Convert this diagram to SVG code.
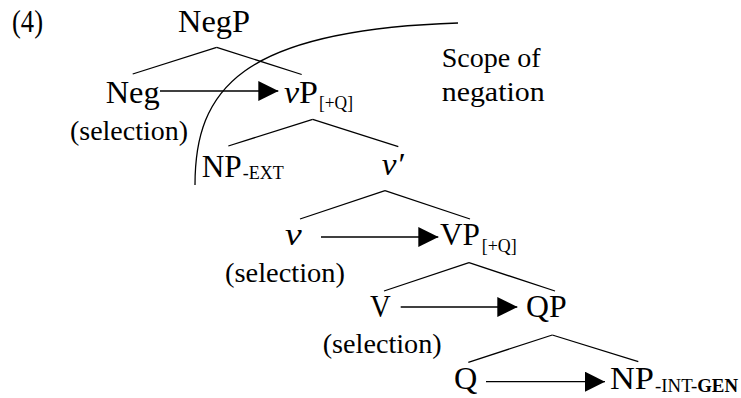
<svg xmlns="http://www.w3.org/2000/svg" width="741" height="398" viewBox="0 0 741 398">
<style>
text{font-family:"Liberation Serif","Times New Roman",serif;fill:#000}
.m{font-size:31px}
.s{font-size:28px}
.sc2{font-size:27px}
.sub{font-size:18px}
.sc{font-size:18px}
.i{font-style:italic}
.b{font-weight:bold}
.e{stroke:#000;stroke-width:1.3;fill:none}
</style>
<defs>
<marker id="ah" markerUnits="userSpaceOnUse" markerWidth="20" markerHeight="20" refX="20" refY="10" orient="auto">
<path d="M0,0 L20,10 L0,20 z" fill="#000"/>
</marker>
</defs>
<text id="ex" class="m" x="12" y="32" textLength="31" lengthAdjust="spacingAndGlyphs">(4)</text>
<g id="connectors">
<line class="e" x1="216.7" y1="47.3" x2="132.7" y2="74"/>
<line class="e" x1="216.7" y1="47.3" x2="301.7" y2="74.5"/>
<line class="e" x1="312.7" y1="119.3" x2="228.3" y2="146"/>
<line class="e" x1="312.7" y1="119.3" x2="398.3" y2="146.7"/>
<line class="e" x1="385" y1="190.7" x2="300" y2="219"/>
<line class="e" x1="385" y1="190.7" x2="470" y2="219"/>
<line class="e" x1="469" y1="262.7" x2="384" y2="291"/>
<line class="e" x1="469" y1="262.7" x2="555" y2="291"/>
<line class="e" x1="552.3" y1="335" x2="468.3" y2="362.3"/>
<line class="e" x1="552.3" y1="335" x2="638.3" y2="361.7"/>
<line class="e" x1="160" y1="91" x2="278.3" y2="91" marker-end="url(#ah)"/>
<line class="e" x1="321" y1="237" x2="438.3" y2="237" marker-end="url(#ah)"/>
<line class="e" x1="400.7" y1="307" x2="517.3" y2="307" marker-end="url(#ah)"/>
<line class="e" x1="486" y1="381.7" x2="605" y2="381.7" marker-end="url(#ah)"/>
</g>
<g id="scope">
<path class="e" d="M195,185 C195,90 240,30 458,23"/>
<text class="sc2" x="441.7" y="67" textLength="99" lengthAdjust="spacingAndGlyphs">Scope of</text>
<text class="sc2" x="441.7" y="101" textLength="103" lengthAdjust="spacingAndGlyphs">negation</text>
</g>
<g id="NegP"><text class="m" x="178" y="32" textLength="72" lengthAdjust="spacingAndGlyphs">NegP</text></g>
<g id="Neg">
<text class="m" x="105.7" y="103" textLength="54" lengthAdjust="spacingAndGlyphs">Neg</text>
<text class="s" x="70" y="139.5" textLength="118" lengthAdjust="spacingAndGlyphs">(selection)</text>
</g>
<g id="vP"><text class="m" x="284" y="103" textLength="34" lengthAdjust="spacingAndGlyphs"><tspan class="i">v</tspan>P</text><text class="sub" x="319" y="109.3" textLength="34" lengthAdjust="spacingAndGlyphs">[+Q]</text></g>
<g id="NPext"><text class="m" x="201.7" y="176.7" textLength="40" lengthAdjust="spacingAndGlyphs">NP</text><text class="sc" x="242.7" y="179" textLength="41" lengthAdjust="spacingAndGlyphs">-EXT</text></g>
<g id="vbar"><text class="m i" x="381.7" y="175" textLength="22" lengthAdjust="spacingAndGlyphs">v′</text></g>
<g id="v">
<text class="m i" x="285" y="245" textLength="16.7" lengthAdjust="spacingAndGlyphs">v</text>
<text class="s" x="225" y="281.5" textLength="120" lengthAdjust="spacingAndGlyphs">(selection)</text>
</g>
<g id="VP"><text class="m" x="440" y="245" textLength="40" lengthAdjust="spacingAndGlyphs">VP</text><text class="sub" x="481.7" y="251.7" textLength="35" lengthAdjust="spacingAndGlyphs">[+Q]</text></g>
<g id="V">
<text class="m" x="370" y="317" textLength="20.7" lengthAdjust="spacingAndGlyphs">V</text>
<text class="s" x="322.7" y="353.3" textLength="119" lengthAdjust="spacingAndGlyphs">(selection)</text>
</g>
<g id="QP"><text class="m" x="526" y="317" textLength="40.7" lengthAdjust="spacingAndGlyphs">QP</text></g>
<g id="Q"><text class="m" x="454" y="389" textLength="23.3" lengthAdjust="spacingAndGlyphs">Q</text></g>
<g id="NPint"><text class="m" x="610" y="389" textLength="44" lengthAdjust="spacingAndGlyphs">NP</text><text class="sc" x="655" y="392" textLength="83" lengthAdjust="spacingAndGlyphs">-INT-<tspan class="b">GEN</tspan></text></g>
</svg>
